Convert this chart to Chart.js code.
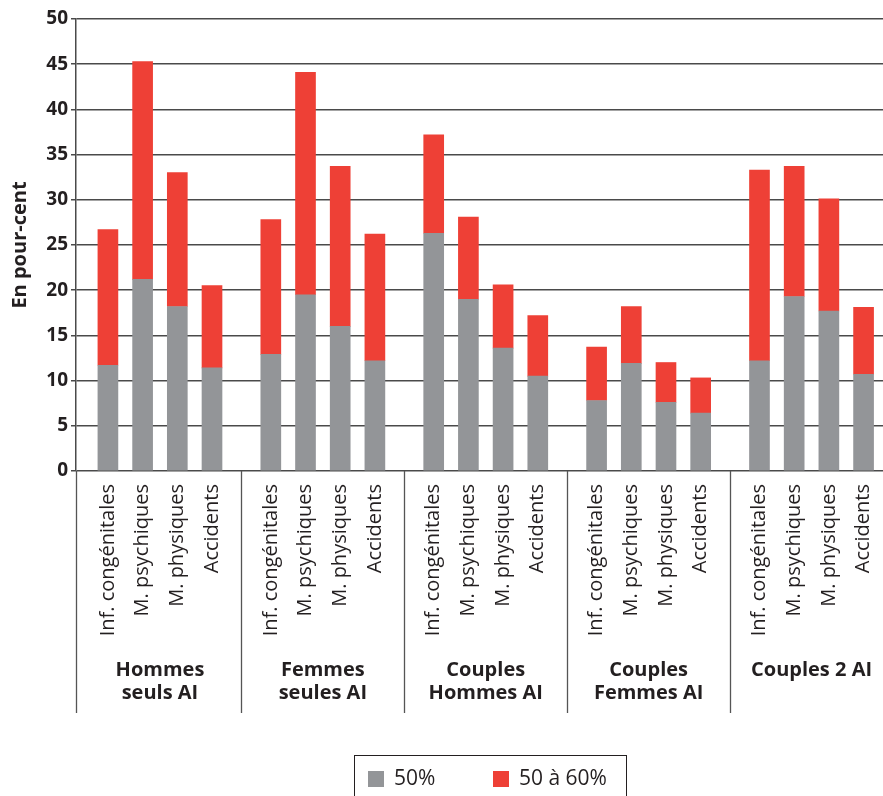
<!DOCTYPE html>
<html>
<head>
<meta charset="utf-8">
<script src="https://cdn.jsdelivr.net/npm/chart.js@4/dist/chart.umd.min.js"></script>
<style>
  html, body { margin: 0; padding: 0; background: #ffffff; overflow: hidden; }
  #wrap { position: relative; width: 883px; height: 796px; }
</style>
</head>
<body>
<div id="wrap"><canvas id="c"></canvas></div>
<script>
// Household groups (label lines) and the four causes shown in each group
const groups = [
  ["Hommes", "seuls AI"],
  ["Femmes", "seules AI"],
  ["Couples", "Hommes AI"],
  ["Couples", "Femmes AI"],
  ["Couples 2 AI"]
];
const causes = ["Inf. congénitales", "M. psychiques", "M. physiques", "Accidents"];
const seriesNames = ["50%", "50 à 60%"];

// Values in per cent, four causes per group, groups in the order above
const share50 = [
  11.7, 21.2, 18.2, 11.4,
  12.9, 19.5, 16.0, 12.2,
  26.3, 19.0, 13.6, 10.5,
   7.8, 11.9,  7.6,  6.4,
  12.2, 19.3, 17.7, 10.7
];
const share50to60 = [
  15.0, 24.1, 14.8,  9.1,
  14.9, 24.6, 17.7, 14.0,
  10.9,  9.1,  7.0,  6.7,
   5.9,  6.3,  4.4,  3.9,
  21.1, 14.4, 12.4,  7.4
];

const yTicks = [0, 5, 10, 15, 20, 25, 30, 35, 40, 45, 50];

// Layout of the bar slots along the x axis (in bar-pitch units)
const LEAD = 0.92;        // from the y axis to the first bar
const GROUP_STEP = 4.695; // from one group to the next
const X_MAX = 23.26;      // visible width of the plot
const slotPos = (g, i) => LEAD + g * GROUP_STEP + i;

const positions = [];
groups.forEach((_, g) => causes.forEach((__, i) => positions.push(slotPos(g, i))));

const toPoints = arr => arr.map((v, k) => ({ x: positions[k], y: v }));

const INK = '#231f20';
const GRID = '#4a4a4a';

// Group separators, group titles and the boxed legend
const groupDecor = {
  id: 'groupDecor',
  afterDraw(chart) {
    const ctx = chart.ctx;
    const xs = chart.scales.x;
    const area = chart.chartArea;
    const sepBottom = 713;
    ctx.save();
    ctx.strokeStyle = '#555555';
    ctx.lineWidth = 1.3;
    const seps = [area.left];
    for (let g = 0; g < groups.length - 1; g++) {
      seps.push(xs.getPixelForValue((slotPos(g, 3) + slotPos(g + 1, 0)) / 2));
    }
    seps.forEach(px => {
      const x = Math.round(px) + 0.5;
      ctx.beginPath();
      ctx.moveTo(x, area.bottom);
      ctx.lineTo(x, sepBottom);
      ctx.stroke();
    });

    ctx.fillStyle = INK;
    ctx.font = 'bold 20px "Open Sans"';
    ctx.textAlign = 'center';
    ctx.textBaseline = 'middle';
    groups.forEach((lines, g) => {
      const cx = xs.getPixelForValue((slotPos(g, 0) + slotPos(g, 3)) / 2);
      lines.forEach((t, j) => ctx.fillText(t, cx, 670 + j * 23));
    });

    // legend
    ctx.strokeStyle = INK;
    ctx.lineWidth = 1;
    ctx.strokeRect(354.5, 755.5, 272, 60);
    ctx.font = '21px "Open Sans"';
    ctx.textAlign = 'left';
    const itemX = [368, 493];
    chart.data.datasets.forEach((ds, k) => {
      ctx.fillStyle = ds.backgroundColor;
      ctx.fillRect(itemX[k], 771, 16, 16);
      ctx.fillStyle = INK;
      ctx.fillText(ds.label, itemX[k] + 26, 779);
    });
    ctx.restore();
  }
};

new Chart(document.getElementById('c'), {
  type: 'bar',
  data: {
    datasets: [
      { label: seriesNames[0], data: toPoints(share50), backgroundColor: '#939598', barThickness: 20 },
      { label: seriesNames[1], data: toPoints(share50to60), backgroundColor: '#ee4036', barThickness: 20 }
    ]
  },
  options: {
    responsive: true,
    maintainAspectRatio: false,
    animation: false,
    layout: { padding: { top: 19, left: 0, right: 0, bottom: 0 } },
    plugins: { legend: { display: false }, tooltip: { enabled: false } },
    scales: {
      x: {
        type: 'linear',
        stacked: true,
        offset: false,
        min: 0,
        max: X_MAX,
        grid: { display: false },
        border: { display: false },
        afterBuildTicks: scale => { scale.ticks = positions.map(v => ({ value: v })); },
        afterFit: scale => {
          scale.height = 796 - 471;
          scale.paddingLeft = 0;
          scale.paddingRight = 0;
        },
        ticks: {
          autoSkip: false,
          maxRotation: 90,
          minRotation: 90,
          padding: 5,
          color: INK,
          font: { family: 'Open Sans', size: 20 },
          callback: (value, index) => causes[index % causes.length]
        }
      },
      y: {
        stacked: true,
        min: 0,
        max: 50,
        afterBuildTicks: scale => { scale.ticks = yTicks.map(v => ({ value: v })); },
        afterFit: scale => { scale.width = 76; },
        grid: { color: GRID, lineWidth: 1.5, tickLength: 5 },
        border: { display: true, color: GRID, width: 1.5 },
        ticks: {
          padding: 3,
          color: INK,
          font: { family: 'Open Sans', size: 19, weight: 'bold' }
        },
        title: {
          display: true,
          text: 'En pour-cent',
          color: INK,
          font: { family: 'Open Sans', size: 20, weight: 'bold' },
          padding: { top: 8, bottom: 0 }
        }
      }
    }
  },
  plugins: [groupDecor]
});
</script>
</body>
</html>
